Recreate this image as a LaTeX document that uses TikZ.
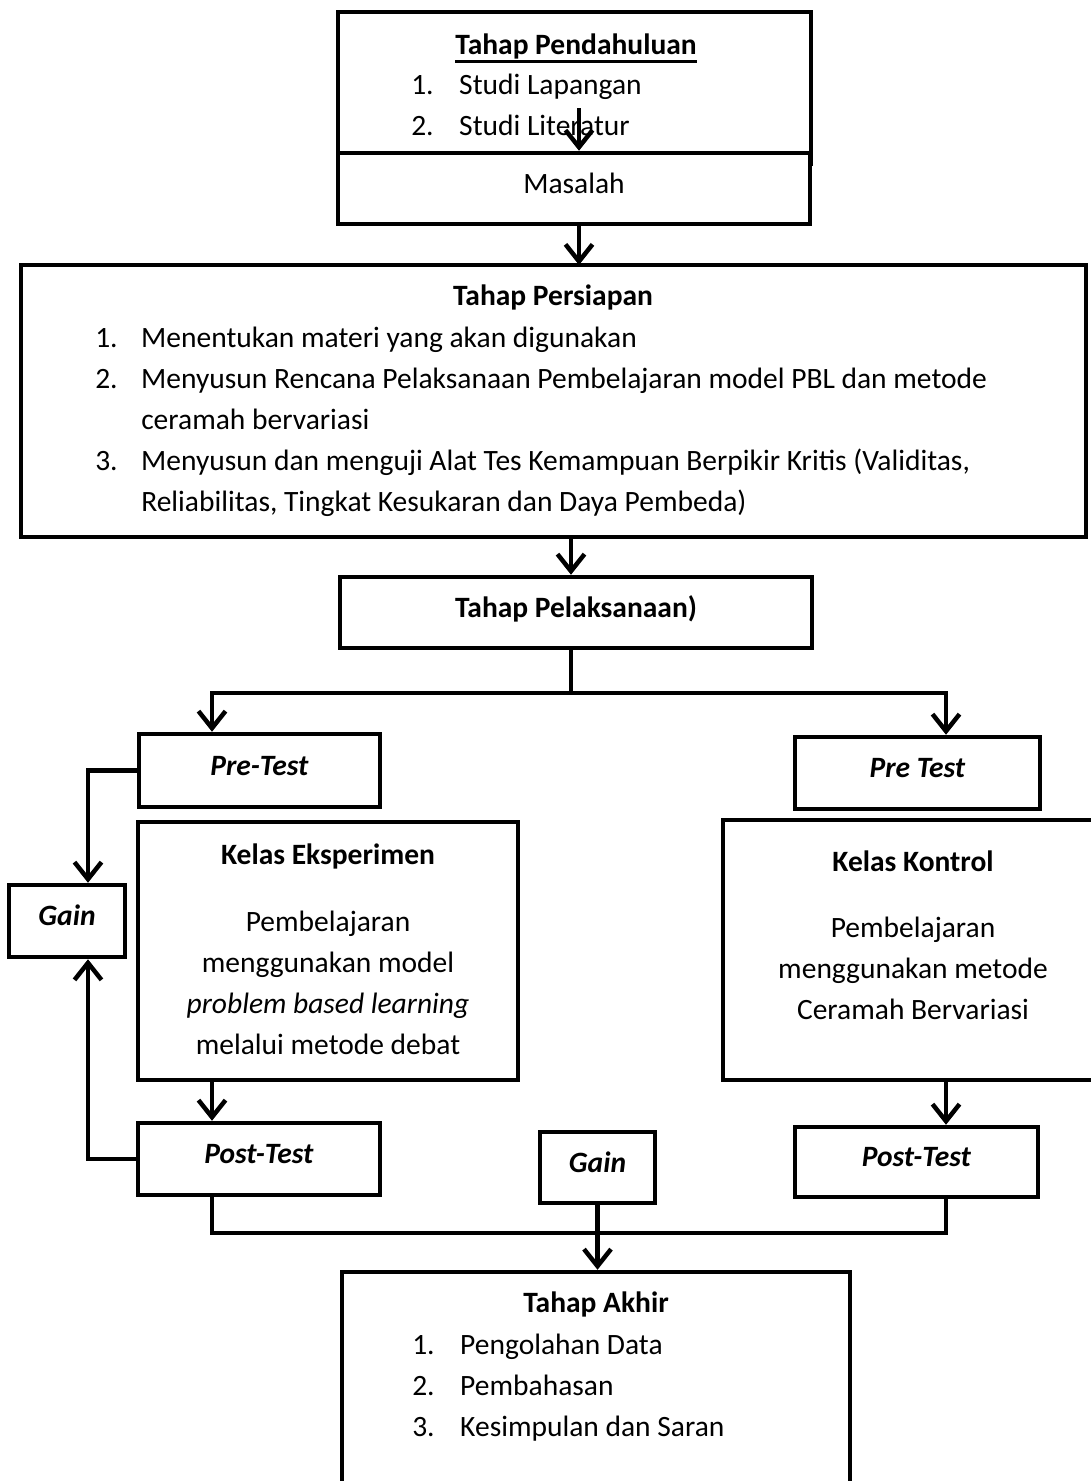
\documentclass[tikz,border=0pt]{standalone}
\usepackage{fontspec}
\setmainfont{Carlito}
\usetikzlibrary{arrows.meta, calc}

\newsavebox\ulsave
\newcommand{\titleline}[1]{\sbox\ulsave{#1}\rlap{\rule[-9pt]{\wd\ulsave}{2.8pt}}\usebox\ulsave}

\begin{document}
\begin{tikzpicture}[x=1pt, y=-1pt, line width=4.5pt,
						every node/.style={font=\fontsize{29.5}{41}\selectfont},
						box/.style={draw, rectangle, fill=white, inner sep=0pt, text height=16pt, text depth=7pt},
						txt/.style={inner sep=0pt, anchor=base},
						every path/.style={>={Straight Barb[length=17pt, width=27pt]}}]
					\useasboundingbox (0,0) rectangle (1091,1481);
					\clip (0,0) rectangle (1091,1481);

					% columns of the connectors
					\coordinate (colEks) at (212,0);
					\coordinate (colKon) at (946,0);
					\coordinate (colGain) at (88,0);
					\coordinate (split) at (571,693);
					\coordinate (bus) at (596,1233);
					\coordinate (litArrow) at (579,108);

					% tahap pendahuluan
					\node[box, minimum width=473pt, minimum height=152pt] (pend) at (574.5,88) {};
					\node[txt] (pendTitle) at (576,54) {\textbf{\titleline{Tahap Pendahuluan}}};
					\node[txt, anchor=base west] (pendList) at (409,94) {\begin{tabular}[t]{@{}p{48pt}@{}l@{}}
						1. & Studi Lapangan \\
						2. & Studi Literatur
					\end{tabular}};
					\node[box, minimum width=472pt, minimum height=71pt] (masalah) at (574,188.5) {Masalah};
					\draw[->] (litArrow) -- (litArrow |- masalah.north);
					\draw[->] ([xshift=5pt]masalah.south) -- ([xshift=5pt]masalah.south |- 0,265);

					% tahap persiapan
					\node[box, minimum width=1065pt, minimum height=272pt] (persiapan) at (553.5,401) {};
					\node[txt] (persTitle) at (553,305) {\textbf{Tahap Persiapan}};
					\node[txt, anchor=base west] (persList) at (93,347) {\begin{tabular}[t]{@{}p{46pt}@{}l@{}}
						1. & Menentukan materi yang akan digunakan \\
						2. & Menyusun Rencana Pelaksanaan Pembelajaran model PBL dan metode \\
						   & ceramah bervariasi \\
						3. & Menyusun dan menguji Alat Tes Kemampuan Berpikir Kritis (Validitas, \\
						   & Reliabilitas, Tingkat Kesukaran dan Daya Pembeda)
					\end{tabular}};

					% tahap pelaksanaan
					\node[box, minimum width=472pt, minimum height=71pt] (pelaksanaan) at (576,612.5) {\textbf{Tahap Pelaksanaan)}};
					\draw[->] (split |- persiapan.south) -- (split |- pelaksanaan.north);
					\draw (split |- pelaksanaan.south) -- (split);

					\node[box, minimum width=241pt, minimum height=73pt] (preEks) at (259.5,770.5) {\textbf{\textit{Pre-Test}}};
					\node[box, minimum width=245pt, minimum height=72pt] (preKon) at (917.5,773) {\textbf{\textit{Pre Test}}};
					\draw[->] (split) -| (colEks |- preEks.north);
					\draw[->] (split) -| (colKon |- preKon.north);

					% kelas eksperimen dan kontrol
					\node[box, minimum width=380pt, minimum height=258pt] (eksperimen) at (328,951) {};
					\node[txt] (eksTitle) at (328,864) {\textbf{Kelas Eksperimen}};
					\node[txt] (eksBody) at (328,931) {\begin{tabular}[t]{@{}c@{}}
						Pembelajaran \\ menggunakan model \\ \textit{problem based learning} \\ melalui metode debat
					\end{tabular}};

					\node[box, minimum width=380pt, minimum height=260pt] (kontrol) at (913,950) {};
					\node[txt] (konTitle) at (913,871) {\textbf{Kelas Kontrol}};
					\node[txt] (konBody) at (913,937) {\begin{tabular}[t]{@{}c@{}}
						Pembelajaran \\ menggunakan metode \\ Ceramah Bervariasi
					\end{tabular}};

					\node[box, minimum width=116pt, minimum height=72pt] (gainEks) at (67,921) {\textbf{\textit{Gain}}};
					\node[box, minimum width=242pt, minimum height=72pt] (postEks) at (259,1159) {\textbf{\textit{Post-Test}}};
					\node[box, minimum width=243pt, minimum height=70pt] (postKon) at (916.5,1162) {\textbf{\textit{Post-Test}}};
					\node[box, minimum width=115pt, minimum height=71pt] (gainAll) at (597.5,1167.5) {\textbf{\textit{Gain}}};

					\draw[->] (preEks.west) -| (colGain |- gainEks.north);
					\draw[->] (postEks.west) -| (colGain |- gainEks.south);
					\draw[->] (colEks |- eksperimen.south) -- (colEks |- postEks.north);
					\draw[->] (colKon |- kontrol.south) -- (colKon |- postKon.north);
					\draw (colEks |- postEks.south) |- (bus) -| (colKon |- postKon.south);

					% tahap akhir
					\node[box, minimum width=508pt, minimum height=256pt] (akhir) at (596,1400) {};
					\node[txt] (akhirTitle) at (596,1312) {\textbf{Tahap Akhir}};
					\node[txt, anchor=base west] (akhirList) at (410,1354) {\begin{tabular}[t]{@{}p{48pt}@{}l@{}}
						1. & Pengolahan Data \\
						2. & Pembahasan \\
						3. & Kesimpulan dan Saran
					\end{tabular}};
					\draw[->] (gainAll.south) -- (gainAll.south |- akhir.north);
				\end{tikzpicture}
\end{document}
